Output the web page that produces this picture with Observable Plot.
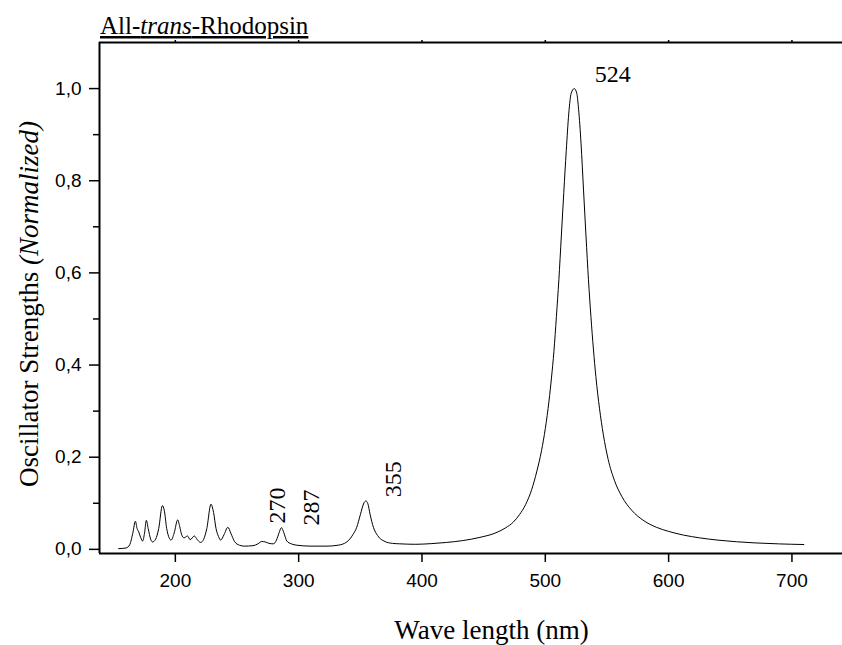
<!DOCTYPE html>
<html>
<head>
<meta charset="utf-8">
<script src="https://cdn.jsdelivr.net/npm/d3@7"></script>
<script src="https://cdn.jsdelivr.net/npm/@observablehq/plot@0.6"></script>
<style>
  html, body { margin: 0; padding: 0; background: #fff; }
  #chart { width: 842px; height: 645px; overflow: hidden; }
</style>
</head>
<body>
<div id="chart"></div>
<script>
// ---- data ----
const wavelength = [
  154, 160, 163, 165.5, 167.6, 169, 170.3, 172, 173.5, 175, 176.5, 178, 180, 181.5, 184, 186.5, 189.5, 191, 193, 195,
  196.5, 199, 201.9, 203.5, 205, 207, 209.9, 212, 215.4, 217.5, 220.5, 223, 225.5, 228.9, 231, 233, 235, 236.8, 239.5, 242.6,
  245, 248, 252, 256, 263, 267, 270, 273, 276, 279.5, 282, 284, 286, 288, 290.4, 294, 298.5, 310, 323, 332,
  339, 344, 347.1, 350, 353, 354.5, 356, 358, 360.6, 364, 370, 376, 382, 395, 408, 420, 433, 447, 460, 468,
  474, 479, 484, 489, 493, 497, 500, 503, 505, 507, 509, 511, 513, 515, 517, 519, 521, 523.5, 525.5, 527,
  529, 531, 533, 535, 537, 539, 541, 544, 547, 551, 556, 562, 570, 580, 590, 600, 612, 625, 640, 655,
  670, 690, 709.6
];
const strength = [
  0.0015, 0.003, 0.010, 0.035, 0.061, 0.045, 0.038, 0.025, 0.018, 0.035, 0.063, 0.045, 0.022, 0.016, 0.022, 0.045, 0.095, 0.085, 0.045, 0.025,
  0.020, 0.035, 0.064, 0.050, 0.033, 0.025, 0.029, 0.021, 0.029, 0.022, 0.015, 0.022, 0.045, 0.098, 0.080, 0.045, 0.028, 0.020, 0.032, 0.048,
  0.035, 0.017, 0.009, 0.007, 0.008, 0.012, 0.017, 0.016, 0.013, 0.012, 0.020, 0.035, 0.047, 0.036, 0.018, 0.012, 0.009, 0.007, 0.007, 0.009,
  0.016, 0.032, 0.048, 0.075, 0.101, 0.105, 0.100, 0.075, 0.048, 0.030, 0.017, 0.013, 0.012, 0.011, 0.0125, 0.015, 0.019, 0.026, 0.036, 0.047,
  0.059, 0.075, 0.097, 0.130, 0.168, 0.215, 0.262, 0.322, 0.372, 0.430, 0.505, 0.585, 0.680, 0.775, 0.865, 0.945, 0.990, 1.0, 0.990, 0.955,
  0.880, 0.780, 0.680, 0.585, 0.505, 0.435, 0.375, 0.305, 0.250, 0.195, 0.150, 0.115, 0.085, 0.062, 0.048, 0.039, 0.031, 0.025, 0.020, 0.0165,
  0.014, 0.0118, 0.0105
];
const peakLabels = ["524", "270", "287", "355"];
const xTicks = [200, 300, 400, 500, 600, 700];
const yTicks = [0, 0.2, 0.4, 0.6, 0.8, 1.0];
const yMinorTicks = [0.1, 0.3, 0.5, 0.7, 0.9];
const xDomain = [138.5, 741];
const yDomain = [-0.009, 1.1];
const titleParts = ["All-", "trans", "-Rhodopsin"];
const xTitle = "Wave length (nm)";
const yTitleParts = ["Oscillator Strengths ", "(Normalized)"];

// ---- build ----
const spectrum = wavelength.map((w, i) => ({w, s: strength[i]}));
// label anchors (annotation placement)
const labelAnchors = [
  {text: peakLabels[0], x: 540, y: 1.015, rotate: 0},
  {text: peakLabels[1], x: 282.6, y: 0.056, rotate: -90},
  {text: peakLabels[2], x: 310.1, y: 0.052, rotate: -90},
  {text: peakLabels[3], x: 376.5, y: 0.113, rotate: -90}
];
const fmt = d => d.toFixed(1).replace(".", ",");
const serif = "'Liberation Serif', 'Times New Roman', serif";

const chart = Plot.plot({
  width: 842,
  height: 645,
  marginTop: 42,
  marginLeft: 99,
  marginRight: 0,
  marginBottom: 92,
  style: {fontFamily: "'Liberation Sans', Arial, sans-serif", fontSize: "19px", background: "#fff", color: "#000"},
  x: {domain: xDomain},
  y: {domain: yDomain},
  marks: [
    Plot.axisX({ticks: xTicks, tickSize: 9, tickPadding: 11, strokeWidth: 1.5, fontSize: 19, label: null, tickFormat: d => String(d)}),
    Plot.axisX({anchor: "top", ticks: xTicks, tickSize: 3, strokeWidth: 1.5, label: null, tickFormat: () => ""}),
    Plot.axisY({ticks: yTicks, tickSize: 10, tickPadding: 8, strokeWidth: 1.5, fontSize: 19, label: null, tickFormat: fmt}),
    Plot.axisY({ticks: yMinorTicks, tickSize: 6, strokeWidth: 1.5, label: null, tickFormat: () => ""}),
    Plot.ruleY([yDomain[0]], {stroke: "#000", strokeWidth: 2}),
    Plot.ruleY([yDomain[1]], {stroke: "#000", strokeWidth: 2}),
    Plot.ruleX([xDomain[0]], {stroke: "#000", strokeWidth: 2}),
    Plot.line(spectrum, {x: "w", y: "s", curve: "monotone-x", stroke: "#000", strokeWidth: 1}),
    Plot.text(labelAnchors.filter(d => d.rotate === 0), {
      x: "x", y: "y", text: "text", textAnchor: "start", lineAnchor: "bottom",
      fontSize: 24, fill: "#000"
    }),
    Plot.text(labelAnchors.filter(d => d.rotate !== 0), {
      x: "x", y: "y", text: "text", rotate: -90, textAnchor: "start", lineAnchor: "middle",
      fontSize: 24, fill: "#000"
    })
  ]
});

const svg = d3.select(chart);
svg.selectAll("text")
  .filter(function () { return peakLabels.includes(this.textContent.trim()); })
  .style("font-family", serif);
// title
const t = svg.append("text")
  .attr("x", 100).attr("y", 34)
  .attr("text-anchor", "start")
  .style("font-family", serif).attr("font-size", 25)
  .attr("fill", "#000")
  .style("text-decoration", "underline");
t.append("tspan").text(titleParts[0]);
t.append("tspan").attr("font-style", "italic").text(titleParts[1]);
t.append("tspan").text(titleParts[2]);
// x title
svg.append("text")
  .attr("x", 491.5).attr("y", 639)
  .attr("text-anchor", "middle")
  .style("font-family", serif).attr("font-size", 27).attr("fill", "#000")
  .text(xTitle);
// y title
const yt = svg.append("text")
  .attr("transform", "translate(38,304) rotate(-90)")
  .attr("text-anchor", "middle")
  .style("font-family", serif).attr("font-size", 27).attr("fill", "#000");
yt.append("tspan").text(yTitleParts[0]);
yt.append("tspan").attr("font-style", "italic").text(yTitleParts[1]);

document.getElementById("chart").appendChild(chart);
</script>
</body>
</html>
